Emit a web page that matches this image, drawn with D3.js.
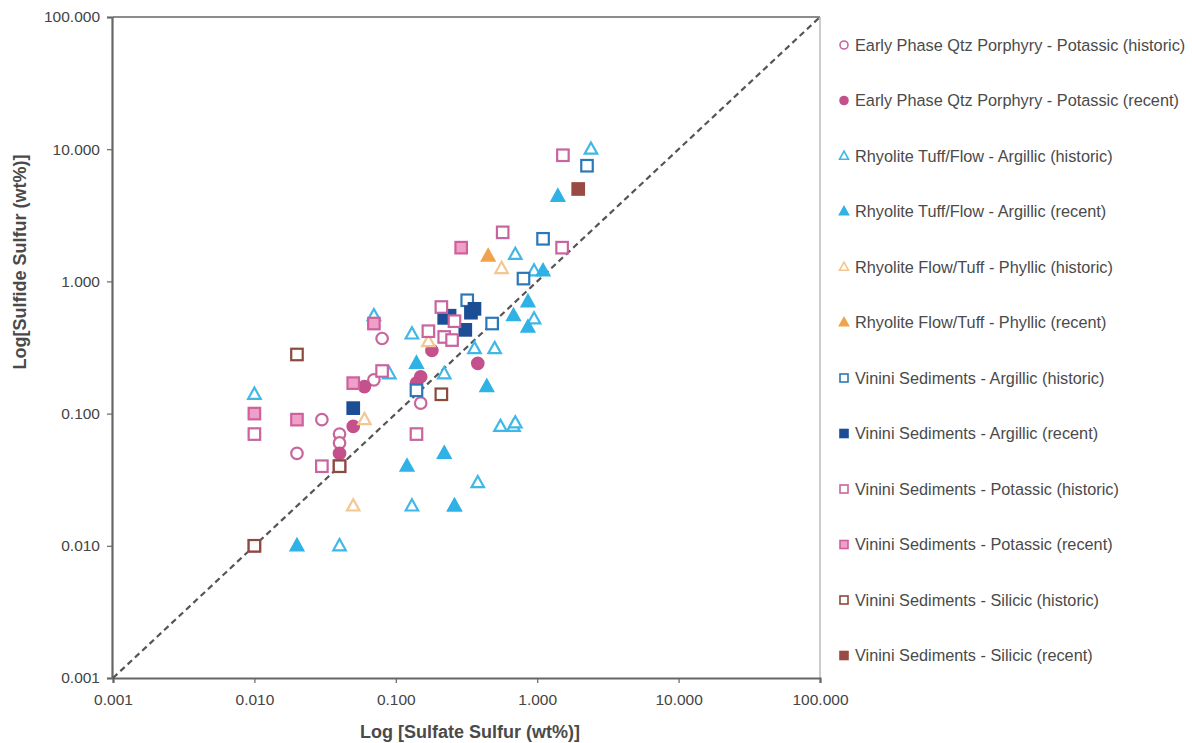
<!DOCTYPE html>
<html><head><meta charset="utf-8">
<script src="https://cdn.jsdelivr.net/npm/d3@7"></script>
<style>body{margin:0;background:#fff}svg{display:block}text{font-family:"Liberation Sans",Arial,sans-serif}</style>
</head><body><svg id="c" width="1192" height="743"></svg>
<script>
const tickValues = [0.001, 0.01, 0.1, 1, 10, 100];
const xLabel = "Log [Sulfate Sulfur (wt%)]";
const yLabel = "Log[Sulfide Sulfur (wt%)]";

const seriesNames = [
  "Early Phase Qtz Porphyry - Potassic (historic)",
  "Early Phase Qtz Porphyry - Potassic (recent)",
  "Rhyolite Tuff/Flow - Argillic (historic)",
  "Rhyolite Tuff/Flow - Argillic (recent)",
  "Rhyolite Flow/Tuff - Phyllic (historic)",
  "Rhyolite Flow/Tuff - Phyllic (recent)",
  "Vinini Sediments - Argillic (historic)",
  "Vinini Sediments - Argillic (recent)",
  "Vinini Sediments - Potassic (historic)",
  "Vinini Sediments - Potassic (recent)",
  "Vinini Sediments - Silicic (historic)",
  "Vinini Sediments - Silicic (recent)"
];

// [sulfate, sulfide]
const earlyHistoric = [[0.02,0.05],[0.03,0.09],[0.04,0.07],[0.04,0.06],[0.07,0.18],[0.08,0.37],[0.15,0.12]];
const earlyRecent = [[0.04,0.05],[0.05,0.08],[0.06,0.16],[0.14,0.17],[0.15,0.19],[0.18,0.30],[0.38,0.24]];
const rhyArgHistoric = [[0.01,0.14],[0.04,0.01],[0.13,0.02],[0.26,0.02],[0.38,0.03],[0.55,0.08],[0.68,0.08],[0.7,0.085],[0.13,0.40],[0.22,0.20],[0.36,0.31],[0.5,0.31],[0.09,0.20],[0.07,0.55],[0.95,0.52],[2.4,10],[0.7,1.6],[0.95,1.2]];
const rhyArgRecent = [[0.02,0.01],[0.12,0.04],[0.22,0.05],[0.26,0.02],[0.44,0.16],[0.14,0.24],[0.68,0.55],[0.86,0.70],[0.86,0.45],[1.4,4.4],[1.1,1.2]];
const rhyPhyHistoric = [[0.05,0.02],[0.06,0.09],[0.17,0.35],[0.56,1.25]];
const rhyPhyRecent = [[0.45,1.55]];
const vinArgHistoric = [[2.25,7.5],[1.1,2.1],[0.8,1.05],[0.32,0.72],[0.48,0.48],[0.14,0.15]];
const vinArgRecent = [[0.05,0.11],[0.22,0.53],[0.24,0.55],[0.31,0.43],[0.34,0.58],[0.36,0.62]];
const vinPotHistoric = [[0.01,0.07],[0.03,0.04],[0.14,0.07],[0.08,0.21],[0.17,0.42],[0.21,0.64],[0.22,0.38],[0.25,0.36],[0.26,0.50],[0.57,2.35],[1.5,1.8],[1.52,9.0]];
const vinPotRecent = [[0.01,0.10],[0.02,0.09],[0.01,0.01],[0.04,0.04],[0.05,0.17],[0.07,0.48],[0.29,1.8]];
const vinSilHistoric = [[0.02,0.28],[0.21,0.14],[0.01,0.01],[0.04,0.04]];
const vinSilRecent = [[1.95,5.0]];

const seriesData = [earlyHistoric, earlyRecent, rhyArgHistoric, rhyArgRecent, rhyPhyHistoric, rhyPhyRecent,
  vinArgHistoric, vinArgRecent, vinPotHistoric, vinPotRecent, vinSilHistoric, vinSilRecent];
const shapes = ["circle","circle","tri","tri","tri","tri","sq","sq","sq","sq","sq","sq"];
const strokes = ["#c8669c","#c4508c","#3fb8e8","#2fb2e6","#f4c690","#f0a24c","#2b78b8","#1c4e96","#c8649e","#d0609c","#8a4a3c","#9a4a44"];
const fills = ["#fff","#c4508c","#fff","#2fb2e6","#fff","#f0a24c","#fff","#1c4e96","#fff","#eea0c8","#fff","#9a4a44"];

const svg = d3.select("#c");
const x = d3.scaleLog().domain([0.001,100]).range([113,820]);
const y = d3.scaleLog().domain([0.001,100]).range([678,17]);
const fmt = d3.format(".3f");

// frame
svg.append("line").attr("x1",113).attr("x2",820).attr("y1",17).attr("y2",17).attr("stroke","#666").attr("stroke-width",1.5);
svg.append("line").attr("x1",820).attr("x2",820).attr("y1",17).attr("y2",678).attr("stroke","#999").attr("stroke-width",1);

const xAxis = svg.append("g").attr("transform","translate(0,678)")
  .call(d3.axisBottom(x).tickValues(tickValues).tickFormat(fmt).tickSize(5).tickPadding(11));
const yAxis = svg.append("g").attr("transform","translate(112,0)")
  .call(d3.axisLeft(y).tickValues(tickValues).tickFormat(fmt).tickSize(5).tickPadding(7));
[xAxis,yAxis].forEach(g=>{
  g.select(".domain").attr("stroke","#666").attr("stroke-width",2.2);
  g.selectAll(".tick line").attr("stroke","#666").attr("stroke-width",1.2);
  g.selectAll(".tick text").attr("fill","#444").style("font-size","15.5px");
});

// 1:1 line
svg.append("line").attr("x1",x(0.001)).attr("y1",y(0.001)).attr("x2",x(100)).attr("y2",y(100))
  .attr("stroke","#555").attr("stroke-width",2.2).attr("stroke-dasharray","6,4");

function drawMarker(g, shape, cx, cy, s, stroke, fill, sw){
  if(shape==="circle"){
    g.append("circle").attr("cx",cx).attr("cy",cy).attr("r",s/2).attr("fill",fill).attr("stroke",stroke).attr("stroke-width",sw);
  } else if(shape==="sq"){
    g.append("rect").attr("x",cx-s/2).attr("y",cy-s/2).attr("width",s).attr("height",s).attr("fill",fill).attr("stroke",stroke).attr("stroke-width",sw);
  } else {
    const h=s*0.9;
    g.append("path").attr("d",`M${cx},${cy-h*0.6}L${cx+s/2},${cy+h*0.4}L${cx-s/2},${cy+h*0.4}Z`)
      .attr("fill",fill).attr("stroke",stroke).attr("stroke-width",sw).attr("stroke-linejoin","miter");
  }
}

const pts = svg.append("g");
seriesData.forEach((data,i)=>{
  const g = pts.append("g");
  data.forEach(d=>drawMarker(g, shapes[i], x(d[0]), y(d[1]), shapes[i]==="sq"?11.5:(shapes[i]==="circle"?11.5:12.5), strokes[i], fills[i], 2.2));
});

// legend
const leg = svg.append("g");
seriesNames.forEach((name,i)=>{
  const ly = 45 + i*55.5;
  drawMarker(leg, shapes[i], 844, ly, shapes[i]==="tri"?9:8, strokes[i], fills[i], 1.6);
  leg.append("text").attr("x",855).attr("y",ly+5.5).attr("fill","#4a4a4a").style("font-size","16.3px").text(name);
});

// axis titles
svg.append("text").attr("x",470).attr("y",738).attr("text-anchor","middle").attr("fill","#4a4a4a")
  .style("font-size","18px").style("font-weight","bold").text(xLabel);
svg.append("text").attr("transform","translate(26,262) rotate(-90)").attr("text-anchor","middle").attr("fill","#4a4a4a")
  .style("font-size","18px").style("font-weight","bold").text(yLabel);
</script></body></html>
